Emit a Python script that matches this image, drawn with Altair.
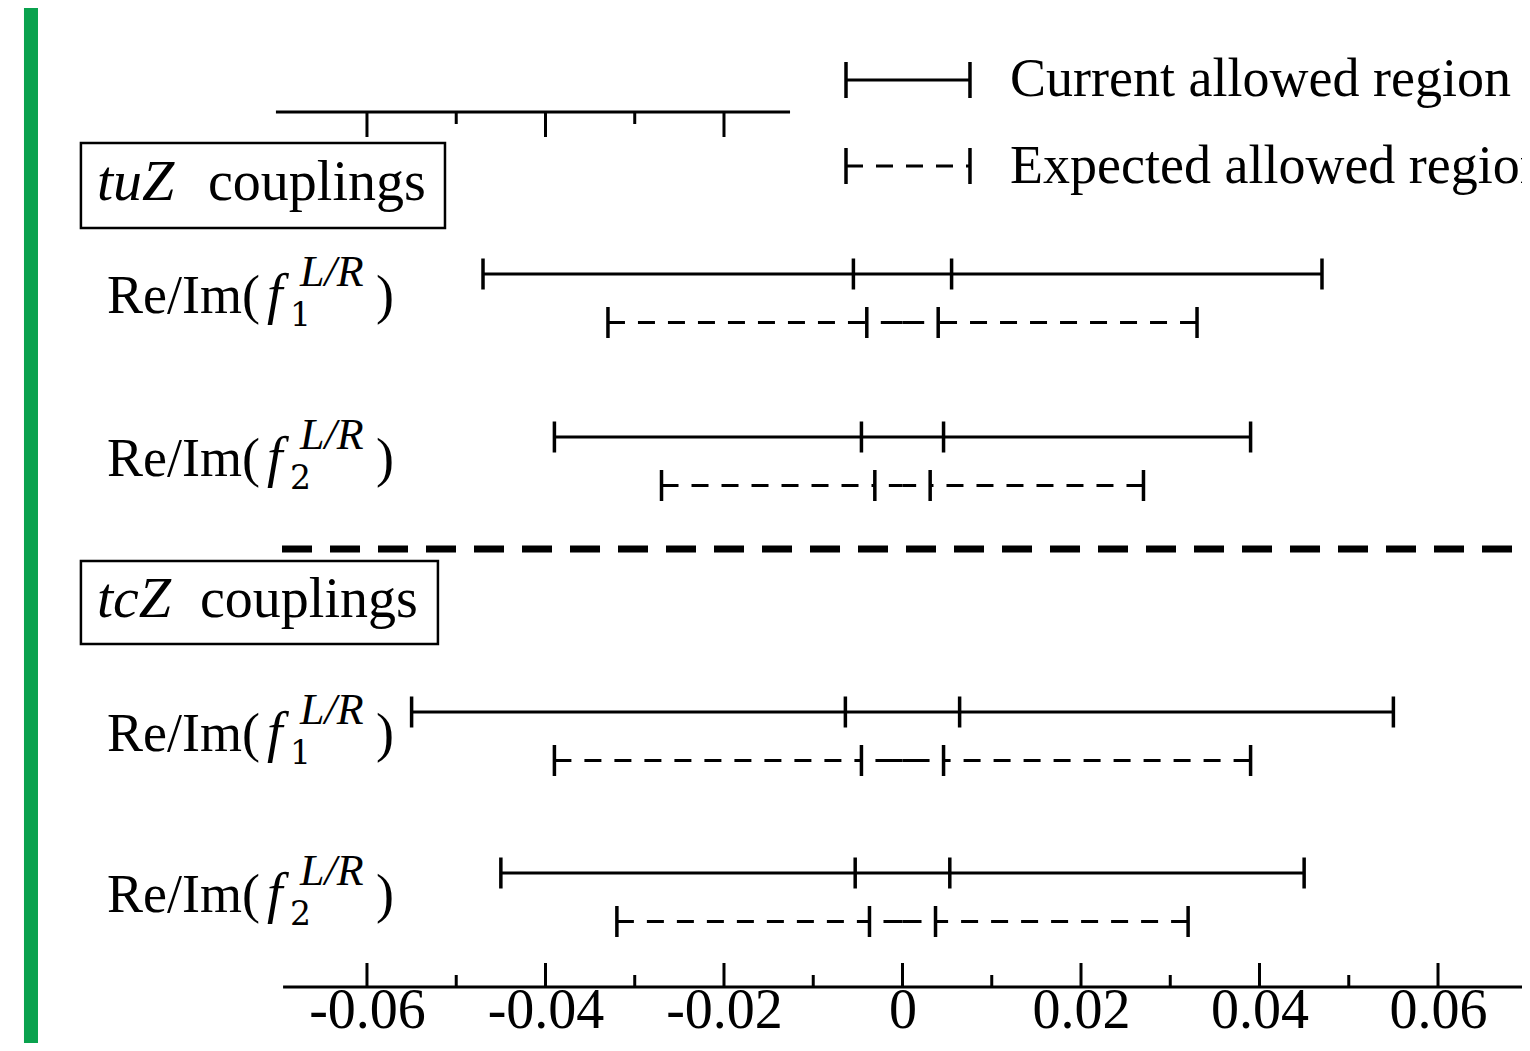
import altair as alt
import pandas as pd

# ---------------- data ----------------
groups = ["tuZ", "tuZ", "tcZ", "tcZ"]
coupling_index = ["1", "2", "1", "2"]
cur_outer = [0.047, 0.039, 0.055, 0.045]      # current allowed region: |value| <= outer
cur_inner = [0.0055, 0.0046, 0.0064, 0.0053]  # inner ticks of current region
exp_outer = [0.033, 0.027, 0.039, 0.032]      # expected allowed region
exp_inner = [0.0040, 0.0031, 0.0046, 0.0037]

major_ticks = [-0.06, -0.04, -0.02, 0.0, 0.02, 0.04, 0.06]
minor_ticks = [-0.05, -0.03, -0.01, 0.01, 0.03, 0.05]
top_major = [-0.06, -0.04, -0.02]
top_minor = [-0.05, -0.03]
legend_labels = ["Current allowed region", "Expected allowed region"]
group_titles = ["tuZ", "tcZ"]

# ---------------- layout ----------------
W, H = 1514, 979
X_DOMAIN = [-0.10022, 0.06941]
FONT = "Liberation Serif"
row_y_current = [713, 550, 275, 114]
exp_offset = 48.5
tick_half = 15.5
label_x = -0.08913
label_drop = 39
title_x = -0.09025
title_baseline = [787, 370]
title_word_dx = [111, 103]
box_x = [-0.09205, -0.09205]
box_x2 = [-0.05126, -0.05205]
box_y = [759, 343]
box_y2 = [844, 426]
sep_y = 438
sep_x = [-0.06952, 0.0700]
top_axis_y = 875
top_axis_x = [-0.0702, -0.0126]
bot_axis_x = [-0.0694, 0.0700]
legend_x = [-0.00633, 0.00756]
legend_y = [907, 821]
legend_text_x = 0.01205
legend_text_y = [891, 804]
green_x = [-0.09843, -0.09686]

xscale = alt.Scale(domain=X_DOMAIN, nice=False, zero=False)
yscale = alt.Scale(domain=[0, H], nice=False, zero=False)
xaxis = alt.Axis(values=major_ticks, domain=False, ticks=False, grid=False,
                 labelFontSize=56, labelFont=FONT, labelColor="black",
                 labelPadding=0, offset=-4, labelFlush=False, labelOverlap=False,
                 labelExpr="datum.value == 0 ? '0' : (datum.value < 0 ? '-' : '') + format(abs(datum.value), '.2f')",
                 title=None)


def X(f):
    return alt.X(f, type="quantitative", scale=xscale, axis=xaxis)


def Y(f):
    return alt.Y(f, type="quantitative", scale=yscale, axis=None)


# ---------------- tables ----------------
cur_rows, exp_rows, tick_rows, mid_rows, lab_rows = [], [], [], [], []
for i in range(4):
    yc = row_y_current[i]
    ye = yc - exp_offset
    cur_rows.append({"x": -cur_outer[i], "x2": cur_outer[i], "y": yc})
    for v in [-cur_outer[i], -cur_inner[i], cur_inner[i], cur_outer[i]]:
        tick_rows.append({"x": v, "y": yc - tick_half, "y2": yc + tick_half})
    exp_rows.append({"x": -exp_outer[i], "x2": -exp_inner[i], "y": ye})
    exp_rows.append({"x": exp_outer[i], "x2": exp_inner[i], "y": ye})
    mid = (exp_inner[i] - exp_inner[i]) / 2
    mid_rows.append({"x": -exp_inner[i], "x2": mid, "y": ye})
    mid_rows.append({"x": exp_inner[i], "x2": mid, "y": ye})
    for v in [-exp_outer[i], -exp_inner[i], exp_inner[i], exp_outer[i]]:
        tick_rows.append({"x": v, "y": ye - tick_half, "y2": ye + tick_half})
    lab_rows.append({"x": label_x, "y": yc - label_drop, "n": coupling_index[i]})

cur_df = pd.DataFrame(cur_rows)
exp_df = pd.DataFrame(exp_rows)
mid_df = pd.DataFrame(mid_rows)
tick_df = pd.DataFrame(tick_rows)
lab_df = pd.DataFrame(lab_rows)

box_df = pd.DataFrame({"x": box_x, "x2": box_x2, "y": box_y, "y2": box_y2})
title_df = pd.DataFrame({"x": [title_x] * 2, "y": title_baseline, "t": group_titles,
                         "dx": title_word_dx})

axis_line_df = pd.DataFrame({"x": [bot_axis_x[0], top_axis_x[0]],
                             "x2": [bot_axis_x[1], top_axis_x[1]],
                             "y": [0, top_axis_y]})
axis_tick_df = pd.DataFrame(
    [{"x": v, "y": 0, "y2": 24} for v in major_ticks]
    + [{"x": v, "y": 0, "y2": 12} for v in minor_ticks]
    + [{"x": v, "y": top_axis_y, "y2": top_axis_y - 25} for v in top_major]
    + [{"x": v, "y": top_axis_y, "y2": top_axis_y - 12} for v in top_minor]
)
sep_df = pd.DataFrame({"x": [sep_x[0]], "x2": [sep_x[1]], "y": [sep_y]})
green_df = pd.DataFrame({"x": [green_x[0]], "x2": [green_x[1]], "y": [H + 10], "y2": [-80]})

leg_line_df = pd.DataFrame({"x": [legend_x[0], legend_x[0]], "x2": [legend_x[1], legend_x[1]],
                            "y": legend_y, "kind": ["cur", "exp"]})
leg_tick_df = pd.DataFrame([{"x": v, "y": yy - 18, "y2": yy + 18}
                            for yy in legend_y for v in legend_x])
leg_text_df = pd.DataFrame({"x": [legend_text_x] * 2, "y": legend_text_y, "t": legend_labels})

BLACK = "#000000"
K = alt.value(BLACK)

# ---------------- layers ----------------
green = alt.Chart(green_df).mark_rect(clip=False).encode(
    x=X("x"), x2="x2", y=Y("y"), y2="y2", color=alt.value("#0aa24e"))

boxes = alt.Chart(box_df).mark_rect(fill=None, fillOpacity=0, stroke=BLACK, strokeWidth=2.5).encode(
    x=X("x"), x2="x2", y=Y("y"), y2="y2")

separator = alt.Chart(sep_df).mark_rule(strokeWidth=7, strokeDash=[30, 18], clip=False).encode(
    x=X("x"), x2="x2", y=Y("y"), color=K)

axis_lines = alt.Chart(axis_line_df).mark_rule(strokeWidth=3, clip=False).encode(
    x=X("x"), x2="x2", y=Y("y"), color=K)
axis_ticks = alt.Chart(axis_tick_df).mark_rule(strokeWidth=3).encode(
    x=X("x"), y=Y("y"), y2="y2", color=K)

cur_lines = alt.Chart(cur_df).mark_rule(strokeWidth=3).encode(
    x=X("x"), x2="x2", y=Y("y"), color=K)
exp_lines = alt.Chart(exp_df).mark_rule(strokeWidth=3, strokeDash=[17, 13]).encode(
    x=X("x"), x2="x2", y=Y("y"), color=K)
mid_lines = alt.Chart(mid_df).mark_rule(strokeWidth=3, strokeDash=[2000, 14],
                                        strokeDashOffset=2000).encode(
    x=X("x"), x2="x2", y=Y("y"), color=K)
ticks = alt.Chart(tick_df).mark_rule(strokeWidth=3.5).encode(
    x=X("x"), y=Y("y"), y2="y2", color=K)

leg_cur = alt.Chart(leg_line_df).transform_filter("datum.kind == 'cur'").mark_rule(
    strokeWidth=3).encode(x=X("x"), x2="x2", y=Y("y"), color=K)
leg_exp = alt.Chart(leg_line_df).transform_filter("datum.kind == 'exp'").mark_rule(
    strokeWidth=3, strokeDash=[17, 13]).encode(x=X("x"), x2="x2", y=Y("y"), color=K)
leg_ticks = alt.Chart(leg_tick_df).mark_rule(strokeWidth=3.5).encode(
    x=X("x"), y=Y("y"), y2="y2", color=K)
leg_text = alt.Chart(leg_text_df).mark_text(font=FONT, fontSize=54, align="left",
                                            baseline="alphabetic").encode(
    x=X("x"), y=Y("y"), text=alt.Text("t:N"), color=K)

title_it = alt.Chart(title_df).mark_text(font=FONT, fontSize=58, fontStyle="italic", align="left",
                                         baseline="alphabetic").encode(
    x=X("x"), y=Y("y"), text=alt.Text("t:N"), color=K)
title_word_tu = alt.Chart(title_df.iloc[[0]]).mark_text(
    font=FONT, fontSize=56, align="left", baseline="alphabetic",
    dx=title_word_dx[0]).encode(x=X("x"), y=Y("y"), text=alt.value("couplings"), color=K)
title_word_tc = alt.Chart(title_df.iloc[[1]]).mark_text(
    font=FONT, fontSize=56, align="left", baseline="alphabetic",
    dx=title_word_dx[1]).encode(x=X("x"), y=Y("y"), text=alt.value("couplings"), color=K)

lab_base = alt.Chart(lab_df)
lab_main = lab_base.mark_text(font=FONT, fontSize=54, align="left", baseline="alphabetic").encode(
    x=X("x"), y=Y("y"), text=alt.value("Re/Im("), color=K)
lab_f = lab_base.mark_text(font=FONT, fontSize=56, fontStyle="italic", align="left",
                           baseline="alphabetic", dx=160).encode(
    x=X("x"), y=Y("y"), text=alt.value("f"), color=K)
lab_sub = lab_base.mark_text(font="DejaVu Serif", fontSize=33, align="left",
                             baseline="alphabetic", dx=183, dy=13).encode(
    x=X("x"), y=Y("y"), text=alt.Text("n:N"), color=K)
lab_sup = lab_base.mark_text(font=FONT, fontSize=44, fontStyle="italic", align="left",
                             baseline="alphabetic", dx=193, dy=-27).encode(
    x=X("x"), y=Y("y"), text=alt.value("L/R"), color=K)
lab_close = lab_base.mark_text(font=FONT, fontSize=54, align="left", baseline="alphabetic",
                               dx=269).encode(x=X("x"), y=Y("y"), text=alt.value(")"), color=K)

chart = alt.layer(
    green, boxes, separator, axis_lines, axis_ticks,
    cur_lines, exp_lines, mid_lines, ticks,
    leg_cur, leg_exp, leg_ticks, leg_text,
    title_it, title_word_tu, title_word_tc,
    lab_main, lab_f, lab_sub, lab_sup, lab_close,
).properties(
    width=W, height=H,
    background="white",
    autosize=alt.AutoSizeParams(type="none"),
    padding={"left": 0, "top": 0, "right": 0, "bottom": 56},
).configure_view(stroke=None, strokeWidth=0)

chart.save("out.html", embed_options={"renderer": "svg", "actions": False})
